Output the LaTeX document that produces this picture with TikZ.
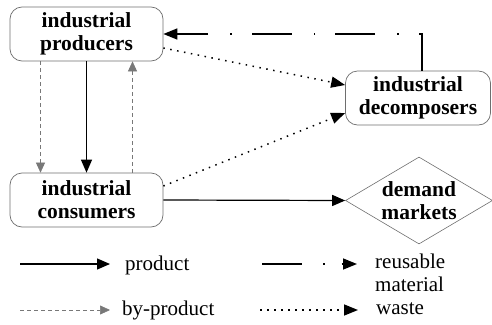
\documentclass[tikz,border=0pt]{standalone}
\usepackage{fontspec}
\setmainfont{Liberation Serif}
\usetikzlibrary{arrows.meta,shapes.geometric,positioning}
\definecolor{boxline}{RGB}{110,110,110}
\definecolor{byline}{RGB}{120,120,120}

\begin{document}
\begin{tikzpicture}[
  x=1pt, y=-1pt,
  every node/.style={font=\fontsize{21}{23}\selectfont},
  actor/.style={draw=boxline, line width=0.7pt, rounded corners=12pt,
    minimum width=153pt, minimum height=54pt, align=center, inner sep=0pt,
    font=\fontsize{21.5}{23}\selectfont\bfseries},
  market/.style={draw=boxline, line width=0.6pt, diamond, shape aspect=1.69,
    minimum width=147pt, minimum height=87pt, align=center, inner sep=0pt,
    font=\fontsize{21.5}{23}\selectfont\bfseries},
  product/.style={-{Triangle[length=13pt,width=11pt]}, line width=1.2pt},
  byproduct/.style={-{Triangle[length=10pt,width=9pt]}, line width=0.6pt,
    byline, dash pattern=on 4pt off 3pt},
  waste/.style={-{Triangle[length=14pt,width=11pt]}, line width=1.5pt,
    dash pattern=on 1.5pt off 5.5pt},
  reusable/.style={-{Triangle[length=14pt,width=11pt]}, line width=1.5pt,
    dash pattern=on 40pt off 20pt on 1.5pt off 22pt},
  legend/.style={anchor=west, align=left, inner sep=0pt},
]

% ===== Canvas: 492 x 324, origin top left, y downward =====
\useasboundingbox (0,0) rectangle (492,324);

%% ---- ACTORS ----
\node[actor] (prod) at (86.5,34) {industrial\\producers};
\node[actor] (cons) at (86.5,200) {industrial\\consumers};
\node[actor, minimum width=145pt] (dec) at (418,98) {industrial\\decomposers};
\node[market] (mkt) at (419,200.5) {demand\\markets};

%% ---- FLOWS ----
% producers <-> consumers
\draw[byproduct] ([xshift=-46pt]prod.south) -- ([xshift=-46pt]cons.north);
\draw[product] (prod.south) -- (cons.north);
\draw[byproduct] ([xshift=46pt]cons.north) -- ([xshift=46pt]prod.south);

% waste to decomposers
\draw[waste] ([yshift=-14pt]prod.east) -- ([yshift=13pt]dec.west);
\draw[waste] ([yshift=14pt]cons.east) -- ([yshift=-15pt]dec.west);

% product to markets
\draw[product] (cons.east) -- (mkt.west);

% reusable material back to producers
\draw[reusable] ([xshift=4pt]dec.north) |- (prod.east);

%% ---- LEGEND ----
\coordinate (lpa) at (20,264);  \coordinate (lpb) at (110,264);
\coordinate (lba) at (20,310);  \coordinate (lbb) at (110,310);
\coordinate (lra) at (262,264); \coordinate (lrb) at (357,264);
\coordinate (lwa) at (260,310); \coordinate (lwb) at (358,310);

\draw[product] (lpa) -- (lpb);
\node[legend] (tp) at (125,265) {product};

\draw[byproduct] (lba) -- (lbb);
\node[legend] (tb) at (122,310) {by-product};

\draw[reusable, dash pattern=on 40pt off 21pt on 1.5pt off 17pt] (lra) -- (lrb);
\node[legend] (tr) at (375,273) {reusable\\material};

\draw[waste] (lwa) -- (lwb);
\node[legend] (tw) at (376,309) {waste};

\end{tikzpicture}
\end{document}
